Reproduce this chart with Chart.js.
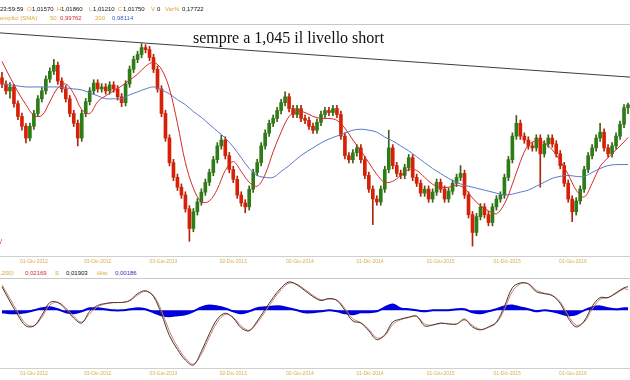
<!DOCTYPE html>
<html><head><meta charset="utf-8">
<script src="https://cdn.jsdelivr.net/npm/chart.js@4"></script>
<style>
html,body{margin:0;padding:0;background:#fff;}
#wrap{position:relative;width:630px;height:380px;overflow:hidden;font-family:'Liberation Sans',Arial,sans-serif;}
.t{position:absolute;font-size:6px;line-height:6px;white-space:nowrap;}
.hl{position:absolute;left:0;width:630px;height:1px;background:#c8c8c8;}
#pbox{position:absolute;left:0;top:0;width:630px;height:268px;}
#mbox{position:absolute;left:0;top:279px;width:630px;height:101px;}
#note{position:absolute;left:193px;top:30px;font-family:'Liberation Serif','Times New Roman',serif;font-size:16px;line-height:16px;color:#111;white-space:nowrap;}
.k{color:#111}.o{color:#e2a03a}.g{color:#d9a93a}.r{color:#d03030}.b{color:#4060c0}.bb{color:#3030c0}
</style></head>
<body>
<div id="wrap">
  <div id="pbox"><canvas id="pc"></canvas></div>
  <div id="mbox"><canvas id="mc"></canvas></div>

  <span class="t k" style="left:0;top:6px">23:59:59</span>
  <span class="t o" style="left:27px;top:6px">O</span><span class="t k" style="left:32px;top:6px">1,01570</span>
  <span class="t o" style="left:57px;top:6px">H</span><span class="t k" style="left:61px;top:6px">1,01860</span>
  <span class="t o" style="left:89px;top:6px">L</span><span class="t k" style="left:93px;top:6px">1,01210</span>
  <span class="t o" style="left:118px;top:6px">C</span><span class="t k" style="left:123px;top:6px">1,01750</span>
  <span class="t o" style="left:151px;top:6px">V</span><span class="t k" style="left:157px;top:6px">0</span>
  <span class="t o" style="left:165px;top:6px">Var%</span><span class="t k" style="left:182px;top:6px">0,17722</span>

  <span class="t g" style="left:0;top:15px">emplici (SMA)</span>
  <span class="t g" style="left:50px;top:15px">50</span><span class="t r" style="left:60px;top:15px">0,99762</span>
  <span class="t g" style="left:95px;top:15px">200</span><span class="t b" style="left:112px;top:15px">0,98114</span>
  <div class="hl" style="top:24px"></div>

  <div id="note">sempre a 1,045 il livello short</div>
  <span class="t" style="left:0;top:238px;color:#d02020;font-size:7px;line-height:7px">/</span>

  <span class="t g" style="left:0;top:270px">,200)</span>
  <span class="t r" style="left:25px;top:270px">0,02169</span>
  <span class="t g" style="left:55px;top:270px">S</span>
  <span class="t k" style="left:66px;top:270px">0,01903</span>
  <span class="t g" style="left:97px;top:270px">Hist</span>
  <span class="t bb" style="left:115px;top:270px">0,00186</span>
  <div class="hl" style="top:278px"></div>
</div>
<script>
// ---- x-axis tick labels (position = candle index on the time axis)
const tickLabels = ['01-Giu-2012','03-Dic-2012','03-Giu-2013','02-Dic-2013','02-Giu-2014','01-Dic-2014','01-Giu-2015','01-Dic-2015','01-Giu-2016'];
const tickAt = [8, 24, 40.5, 58, 74.7, 92.3, 110, 126.7, 143.2];

// ---- candles (aggregated periods)
const opens = [
1.0340,1.0302,1.0260,1.0284,1.0182,1.0104,1.0044,0.9972,1.0044,1.0122,
1.0212,1.0260,1.0332,1.0380,1.0416,1.0320,1.0272,1.0212,1.0122,1.0062,
0.9972,1.0122,1.0194,1.0260,1.0308,1.0272,1.0284,1.0260,1.0296,1.0272,
1.0224,1.0188,1.0302,1.0392,1.0452,1.0482,1.0524,1.0512,1.0464,1.0392,
1.0272,1.0122,0.9972,0.9822,0.9732,0.9672,0.9624,0.9540,0.9420,0.9522,
0.9582,0.9642,0.9702,0.9762,0.9840,0.9924,0.9960,0.9864,0.9780,0.9720,
0.9624,0.9576,0.9552,0.9660,0.9762,0.9822,0.9924,1.0002,1.0062,1.0092,
1.0140,1.0188,1.0224,1.0152,1.0116,1.0152,1.0092,1.0080,1.0044,1.0020,
1.0068,1.0116,1.0140,1.0128,1.0152,1.0116,0.9984,0.9864,0.9840,0.9882,
0.9912,0.9840,0.9744,0.9660,0.9600,0.9582,0.9660,0.9780,0.9912,0.9804,
0.9756,0.9744,0.9792,0.9852,0.9732,0.9696,0.9636,0.9660,0.9600,0.9642,
0.9702,0.9660,0.9600,0.9648,0.9696,0.9732,0.9756,0.9624,0.9504,0.9396,
0.9492,0.9552,0.9504,0.9456,0.9552,0.9600,0.9624,0.9732,0.9840,0.9984,
1.0062,0.9984,0.9960,0.9924,0.9912,0.9972,0.9876,0.9936,0.9972,0.9936,
0.9876,0.9804,0.9696,0.9600,0.9522,0.9588,0.9660,0.9780,0.9864,0.9912,
0.9972,1.0008,0.9912,0.9876,0.9924,0.9984,1.0056,1.0157];
const closes = [
1.0302,1.0260,1.0284,1.0182,1.0104,1.0044,0.9972,1.0044,1.0122,1.0212,
1.0260,1.0332,1.0380,1.0416,1.0320,1.0272,1.0212,1.0122,1.0062,0.9972,
1.0122,1.0194,1.0260,1.0308,1.0272,1.0284,1.0260,1.0296,1.0272,1.0224,
1.0188,1.0302,1.0392,1.0452,1.0482,1.0524,1.0512,1.0464,1.0392,1.0272,
1.0122,0.9972,0.9822,0.9732,0.9672,0.9624,0.9540,0.9420,0.9522,0.9582,
0.9642,0.9702,0.9762,0.9840,0.9924,0.9960,0.9864,0.9780,0.9720,0.9624,
0.9576,0.9552,0.9660,0.9762,0.9822,0.9924,1.0002,1.0062,1.0092,1.0140,
1.0188,1.0224,1.0152,1.0116,1.0152,1.0092,1.0080,1.0044,1.0020,1.0068,
1.0116,1.0140,1.0128,1.0152,1.0116,0.9984,0.9864,0.9840,0.9882,0.9912,
0.9840,0.9744,0.9660,0.9600,0.9582,0.9660,0.9780,0.9912,0.9804,0.9756,
0.9744,0.9792,0.9852,0.9732,0.9696,0.9636,0.9660,0.9600,0.9642,0.9702,
0.9660,0.9600,0.9648,0.9696,0.9732,0.9756,0.9624,0.9504,0.9396,0.9492,
0.9552,0.9504,0.9456,0.9552,0.9600,0.9624,0.9732,0.9840,0.9984,1.0062,
0.9984,0.9960,0.9924,0.9912,0.9972,0.9876,0.9936,0.9972,0.9936,0.9876,
0.9804,0.9696,0.9600,0.9522,0.9588,0.9660,0.9780,0.9864,0.9912,0.9972,
1.0008,0.9912,0.9876,0.9924,0.9984,1.0056,1.0157,1.0175];
const highs = [
1.0374,1.0322,1.0310,1.0300,1.0200,1.0124,1.0060,1.0064,1.0142,1.0232,
1.0280,1.0352,1.0400,1.0452,1.0436,1.0340,1.0292,1.0232,1.0142,1.0082,
1.0142,1.0214,1.0280,1.0328,1.0328,1.0304,1.0304,1.0316,1.0316,1.0292,
1.0244,1.0322,1.0412,1.0472,1.0502,1.0548,1.0542,1.0532,1.0484,1.0412,
1.0292,1.0142,0.9992,0.9842,0.9752,0.9692,0.9644,0.9560,0.9542,0.9602,
0.9662,0.9722,0.9782,0.9860,0.9944,0.9990,0.9980,0.9884,0.9800,0.9740,
0.9644,0.9596,0.9680,0.9782,0.9842,0.9944,1.0022,1.0082,1.0112,1.0160,
1.0208,1.0254,1.0244,1.0172,1.0172,1.0172,1.0112,1.0100,1.0064,1.0088,
1.0136,1.0160,1.0160,1.0172,1.0172,1.0136,1.0004,0.9884,0.9902,0.9932,
0.9932,0.9860,0.9764,0.9680,0.9620,0.9680,0.9800,1.0020,0.9932,0.9824,
0.9776,0.9812,0.9872,0.9872,0.9752,0.9716,0.9680,0.9680,0.9662,0.9722,
0.9722,0.9680,0.9668,0.9716,0.9752,0.9804,0.9776,0.9644,0.9524,0.9512,
0.9572,0.9572,0.9524,0.9572,0.9620,0.9644,0.9752,0.9860,1.0004,1.0110,
1.0082,1.0004,0.9980,0.9944,0.9992,0.9992,0.9956,0.9992,0.9992,0.9956,
0.9896,0.9824,0.9716,0.9620,0.9608,0.9680,0.9800,0.9884,0.9932,0.9992,
1.0062,1.0028,0.9932,0.9944,1.0004,1.0076,1.0177,1.0186];
const lows = [
1.0280,1.0240,1.0215,1.0160,1.0084,1.0020,0.9942,0.9955,1.0024,1.0102,
1.0192,1.0240,1.0312,1.0360,1.0300,1.0252,1.0192,1.0102,1.0042,0.9924,
0.9952,1.0102,1.0174,1.0240,1.0252,1.0252,1.0240,1.0240,1.0252,1.0204,
1.0164,1.0168,1.0282,1.0372,1.0432,1.0462,1.0492,1.0444,1.0372,1.0252,
1.0102,0.9952,0.9802,0.9712,0.9652,0.9604,0.9520,0.9342,0.9400,0.9502,
0.9562,0.9622,0.9682,0.9742,0.9820,0.9904,0.9844,0.9760,0.9700,0.9604,
0.9556,0.9516,0.9532,0.9640,0.9742,0.9802,0.9904,0.9982,1.0042,1.0072,
1.0120,1.0168,1.0132,1.0096,1.0096,1.0072,1.0060,1.0024,1.0000,1.0000,
1.0048,1.0096,1.0108,1.0108,1.0096,0.9964,0.9844,0.9820,0.9820,0.9862,
0.9820,0.9724,0.9640,0.9444,0.9562,0.9562,0.9640,0.9760,0.9784,0.9736,
0.9724,0.9724,0.9772,0.9712,0.9676,0.9616,0.9616,0.9580,0.9580,0.9622,
0.9640,0.9580,0.9580,0.9628,0.9676,0.9712,0.9604,0.9484,0.9312,0.9376,
0.9472,0.9484,0.9436,0.9436,0.9532,0.9580,0.9604,0.9712,0.9820,0.9964,
0.9964,0.9940,0.9904,0.9892,0.9892,0.9672,0.9856,0.9916,0.9916,0.9856,
0.9784,0.9676,0.9580,0.9462,0.9502,0.9568,0.9640,0.9760,0.9844,0.9892,
0.9952,0.9892,0.9856,0.9856,0.9904,0.9964,1.0036,1.0121];

// ---- moving averages, sampled every second candle plus the last one
const sma50 = [
1.0440,1.0344,1.0254,1.0176,1.0110,1.0110,1.0194,1.0278,1.0302,1.0242,
1.0146,1.0122,1.0194,1.0230,1.0260,1.0290,1.0326,1.0362,1.0410,1.0434,
1.0392,1.0272,1.0062,0.9822,0.9666,0.9582,0.9588,0.9660,0.9774,0.9828,
0.9768,0.9702,0.9678,0.9750,0.9888,1.0008,1.0104,1.0134,1.0128,1.0104,
1.0092,1.0092,1.0080,1.0032,0.9960,0.9894,0.9822,0.9750,0.9702,0.9708,
0.9744,0.9780,0.9774,0.9732,0.9690,0.9672,0.9672,0.9684,0.9666,0.9606,
0.9558,0.9528,0.9510,0.9570,0.9690,0.9828,0.9930,0.9954,0.9942,0.9900,
0.9834,0.9750,0.9654,0.9612,0.9696,0.9798,0.9852,0.9900,0.9948,0.9976];
const sma200 = [
1.0302,1.0296,1.0290,1.0284,1.0284,1.0284,1.0284,1.0284,1.0278,1.0272,
1.0266,1.0248,1.0230,1.0212,1.0212,1.0212,1.0236,1.0254,1.0272,1.0284,
1.0266,1.0242,1.0206,1.0176,1.0134,1.0098,1.0056,1.0014,0.9972,0.9918,
0.9852,0.9786,0.9744,0.9732,0.9732,0.9768,0.9804,0.9846,0.9882,0.9912,
0.9942,0.9966,0.9984,1.0002,1.0020,1.0026,1.0020,1.0008,0.9978,0.9954,
0.9924,0.9894,0.9858,0.9822,0.9786,0.9756,0.9726,0.9702,0.9684,0.9672,
0.9660,0.9648,0.9636,0.9624,0.9630,0.9642,0.9654,0.9678,0.9702,0.9726,
0.9738,0.9744,0.9738,0.9738,0.9762,0.9786,0.9804,0.9810,0.9810,0.9811];

// ---- trend line (start / end of the time axis)
const trendLine = [1.0614, 1.0344];
const trendAt = [-0.5, 157.5];

// ---- MACD panel
const macd = [
0.0216,0.0081,-0.0045,-0.0144,-0.0144,-0.0045,0.0072,0.0072,0.0009,-0.0072,
-0.0117,-0.0009,0.0045,0.0063,0.0072,0.0072,0.0090,0.0153,0.0180,0.0126,
-0.0036,-0.0234,-0.0360,-0.0459,-0.0504,-0.0378,-0.0216,-0.0081,-0.0027,-0.0072,
-0.0162,-0.0189,-0.0099,0.0009,0.0117,0.0207,0.0261,0.0234,0.0180,0.0126,
0.0090,0.0108,0.0090,0.0000,-0.0099,-0.0117,-0.0189,-0.0270,-0.0225,-0.0108,
-0.0081,-0.0063,-0.0054,-0.0144,-0.0135,-0.0117,-0.0126,-0.0126,-0.0081,-0.0153,
-0.0180,-0.0153,-0.0108,0.0036,0.0207,0.0252,0.0243,0.0171,0.0153,0.0135,
0.0063,-0.0072,-0.0153,-0.0099,0.0036,0.0117,0.0117,0.0162,0.0207,0.02169];
const signal = [
0.0233,0.0108,-0.0020,-0.0124,-0.0144,-0.0065,0.0049,0.0072,0.0022,-0.0056,
-0.0108,-0.0031,0.0034,0.0059,0.0070,0.0072,0.0086,0.0140,0.0175,0.0137,
-0.0004,-0.0194,-0.0335,-0.0439,-0.0495,-0.0403,-0.0248,-0.0108,-0.0038,-0.0063,
-0.0144,-0.0184,-0.0117,-0.0013,0.0095,0.0189,0.0250,0.0239,0.0191,0.0137,
0.0097,0.0104,0.0094,0.0018,-0.0079,-0.0113,-0.0175,-0.0254,-0.0234,-0.0131,
-0.0086,-0.0067,-0.0056,-0.0126,-0.0137,-0.0121,-0.0124,-0.0126,-0.0090,-0.0139,
-0.0175,-0.0158,-0.0117,0.0007,0.0173,0.0243,0.0245,0.0185,0.0157,0.0139,
0.0077,-0.0045,-0.0137,-0.0110,0.0009,0.0101,0.0117,0.0153,0.0198,0.01903];
const hist = [
-0.0018,-0.0027,-0.0027,-0.0018,0,0.0018,0.0027,0.0009,-0.0018,-0.0027,
-0.0009,0.0018,0.0018,0.0009,0,0,0.0009,0.0018,0.0009,-0.0018,
-0.0045,-0.0054,-0.0045,-0.0036,-0.0009,0.0027,0.0045,0.0036,0.0018,-0.0009,
-0.0027,-0.0009,0.0018,0.0027,0.0036,0.0036,0.0018,0,-0.0018,-0.0018,
-0.0009,0,-0.0009,-0.0027,-0.0036,-0.0018,-0.0018,-0.0009,0.0027,0.0054,
0.0018,0.0009,0,-0.0009,0,0,0,0.0009,0.0009,-0.0018,
-0.0027,-0.0009,0.0009,0.0036,0.0045,0.0027,0.0009,-0.0009,0,-0.0009,
-0.0027,-0.0045,-0.0036,0,0.0027,0.0036,0.0018,0.0009,0.0018,0.00186];

// ---- build
const N = closes.length;
const idx = closes.map((_, i) => i);
const lineIdx = Array.from({length: sma50.length - 1}, (_, k) => 2 * k).concat([N - 1]);
const pts = arr => lineIdx.map((x, k) => ({x, y: arr[k]}));
const isUp = i => closes[i] >= opens[i];

const xAxis = () => ({
  type: 'linear', min: -0.5, max: N - 0.5, offset: false,
  grid: {display: false, drawTicks: false},
  border: {display: true, color: '#cfcfcf'},
  ticks: {autoSkip: false, maxRotation: 0, padding: 3, color: '#d8ae4a',
          font: {size: 5, family: 'Liberation Sans'},
          callback: v => { const k = tickAt.indexOf(v); return k < 0 ? '' : tickLabels[k]; }},
  afterBuildTicks: ax => { ax.ticks = tickAt.map(v => ({value: v})); }
});
const common = {
  responsive: true, maintainAspectRatio: false, animation: false,
  plugins: {legend: {display: false}, tooltip: {enabled: false}}
};

new Chart(document.getElementById('pc'), {
  type: 'bar',
  data: {datasets: [
    {type: 'line', label: 'Trend', data: trendAt.map((x, k) => ({x, y: trendLine[k]})),
     borderColor: '#3c3c3c', borderWidth: 1, pointRadius: 0, order: 0},
    {type: 'line', label: 'SMA 50', data: pts(sma50), borderColor: '#d42a2a', borderWidth: 1,
     pointRadius: 0, tension: 0.35, order: 0},
    {type: 'line', label: 'SMA 200', data: pts(sma200), borderColor: '#5a78c8', borderWidth: 1,
     pointRadius: 0, tension: 0.35, order: 0},
    {label: 'Body', data: idx.map(i => ({x: i, y: [opens[i], closes[i]]})),
     backgroundColor: idx.map(i => isUp(i) ? '#2b7d16' : '#d82006'),
     barThickness: 3, grouped: false, minBarLength: 1, order: 2},
    {label: 'Wick', data: idx.map(i => ({x: i, y: [lows[i], highs[i]]})),
     backgroundColor: idx.map(i => isUp(i) ? '#3d5f14' : '#a8280a'),
     barThickness: 1, grouped: false, order: 3}
  ]},
  options: Object.assign({}, common, {
    layout: {padding: {top: 27, left: 0, right: 0, bottom: 0}},
    scales: {x: xAxis(), y: {display: false, min: 0.9252, max: 1.065}}
  })
});

new Chart(document.getElementById('mc'), {
  type: 'line',
  data: {datasets: [
    {label: 'MACD', data: pts(macd), borderColor: '#4a3434', borderWidth: 1, pointRadius: 0, tension: 0.35, order: 0},
    {label: 'Signal', data: pts(signal), borderColor: '#c8806e', borderWidth: 1, pointRadius: 0, tension: 0.35, order: 1},
    {label: 'Hist', data: pts(hist), borderColor: '#0000dd', backgroundColor: '#0000dd', borderWidth: 2,
     fill: 'origin', pointRadius: 0, tension: 0.3, order: 2}
  ]},
  options: Object.assign({}, common, {
    layout: {padding: {top: 0, left: 0, right: 0, bottom: 0}},
    scales: {x: xAxis(), y: {display: false, min: -0.0531, max: 0.0288}}
  })
});
</script>
</body></html>
